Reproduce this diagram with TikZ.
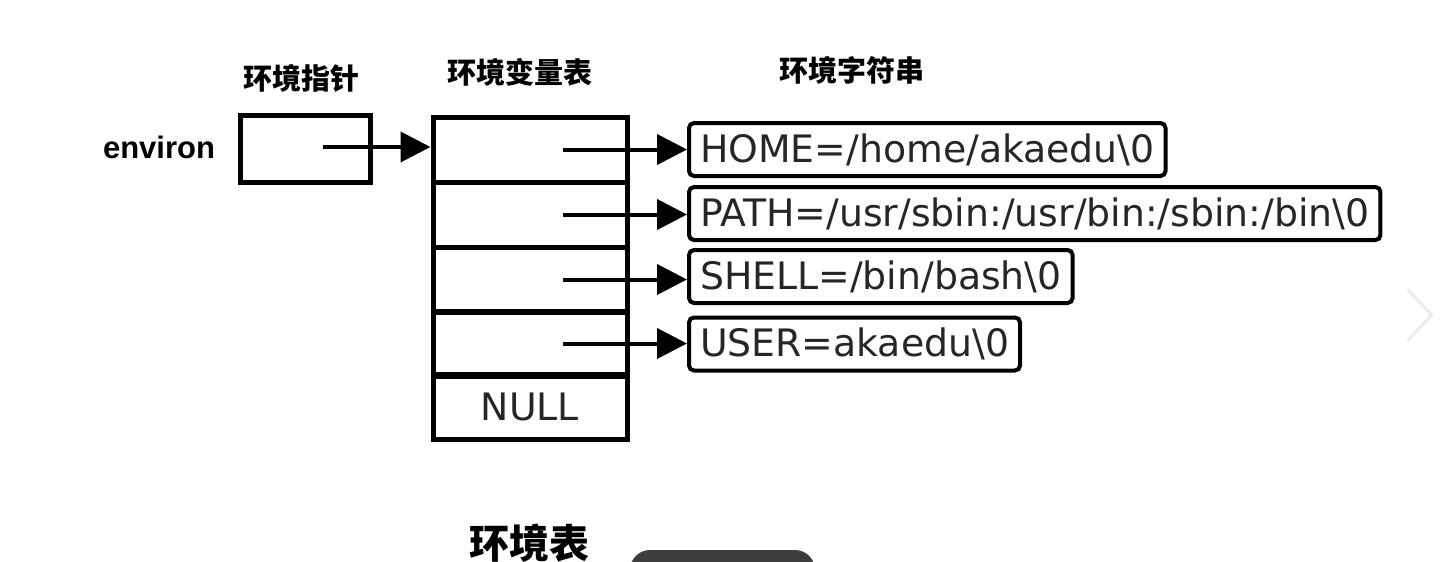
\documentclass[tikz,border=0pt]{standalone}
\usepackage{fontspec}
\setmainfont{DejaVu Sans}
\newfontfamily\cjk{Noto Sans CJK SC}
\newfontfamily\lab{Liberation Sans}
\usetikzlibrary{arrows.meta,calc}
\tikzset{
  cell/.style={draw, line width=2.5pt, minimum width=97pt, minimum height=32.5pt, inner sep=0pt},
  ptrbox/.style={draw, line width=2.5pt, minimum width=65pt, minimum height=33.5pt, inner sep=0pt},
  strbox/.style={draw, line width=2pt, rounded corners=2.5pt, minimum height=26.5pt, inner xsep=5.5pt, inner ysep=0pt, anchor=west, font=\fontsize{18.9}{20}\selectfont, text=black!85},
  ptr/.style={line width=2pt, -{Triangle[length=15pt,width=15pt]}},
  cjklabel/.style={font=\cjk\bfseries\fontsize{14.5}{16}\selectfont, inner sep=0pt},
}
\begin{document}
\begin{tikzpicture}[x=0.5pt,y=-0.5pt]
\useasboundingbox (0,0) rectangle (1448,562);
% titles
\node[cjklabel] (t1) at (301,78) {环境指针};
\node[cjklabel] (t2) at (520,72) {环境变量表};
\node[cjklabel] (t3) at (852,70) {环境字符串};
\node[font=\cjk\bfseries\fontsize{20}{22}\selectfont, inner sep=0pt] (cap) at (529,543) {环境表};
\node[font=\lab\bfseries\fontsize{15.5}{17}\selectfont, inner sep=0pt] (env) at (159,147) {environ};
% pointer box
\node[ptrbox] (p) at (305,148.5) {};
% table cells
\node[cell] (c1) at (530,149.5) {};
\node[cell] (c2) at (530,214.5) {};
\node[cell] (c3) at (530,279.5) {};
\node[cell] (c4) at (530,343.5) {};
\node[cell, font=\fontsize{18.9}{20}\selectfont, text=black!85] (c5) at (530,406.5) {NULL};
% strings
\node[strbox] (s1) at (687,149.5) {HOME=/home/akaedu\textbackslash 0};
\node[strbox] (s2) at (687,213.5) {PATH=/usr/sbin:/usr/bin:/sbin:/bin\textbackslash 0};
\node[strbox] (s3) at (687,276.5) {SHELL=/bin/bash\textbackslash 0};
\node[strbox] (s4) at (687,344) {USER=akaedu\textbackslash 0};
% arrows
\coordinate (p0) at ($(p.center)+(18,-1.5)$);
\draw[ptr] (p0) -- (p0 -| c1.west);
\foreach \i in {1,2,3,4}{
  \coordinate (a\i) at ($(c\i.center)+(33,0)$);
  \draw[ptr] (a\i) -- (a\i -| s\i.west);
}
% screenshot overlay artifacts
\fill[black!76, rounded corners=10pt] (630,550) rectangle (815,600);
\draw[black!8, line width=1.5pt, line cap=round, line join=round] (1408,290) -- (1432,315) -- (1408,340);
\end{tikzpicture}
\end{document}
